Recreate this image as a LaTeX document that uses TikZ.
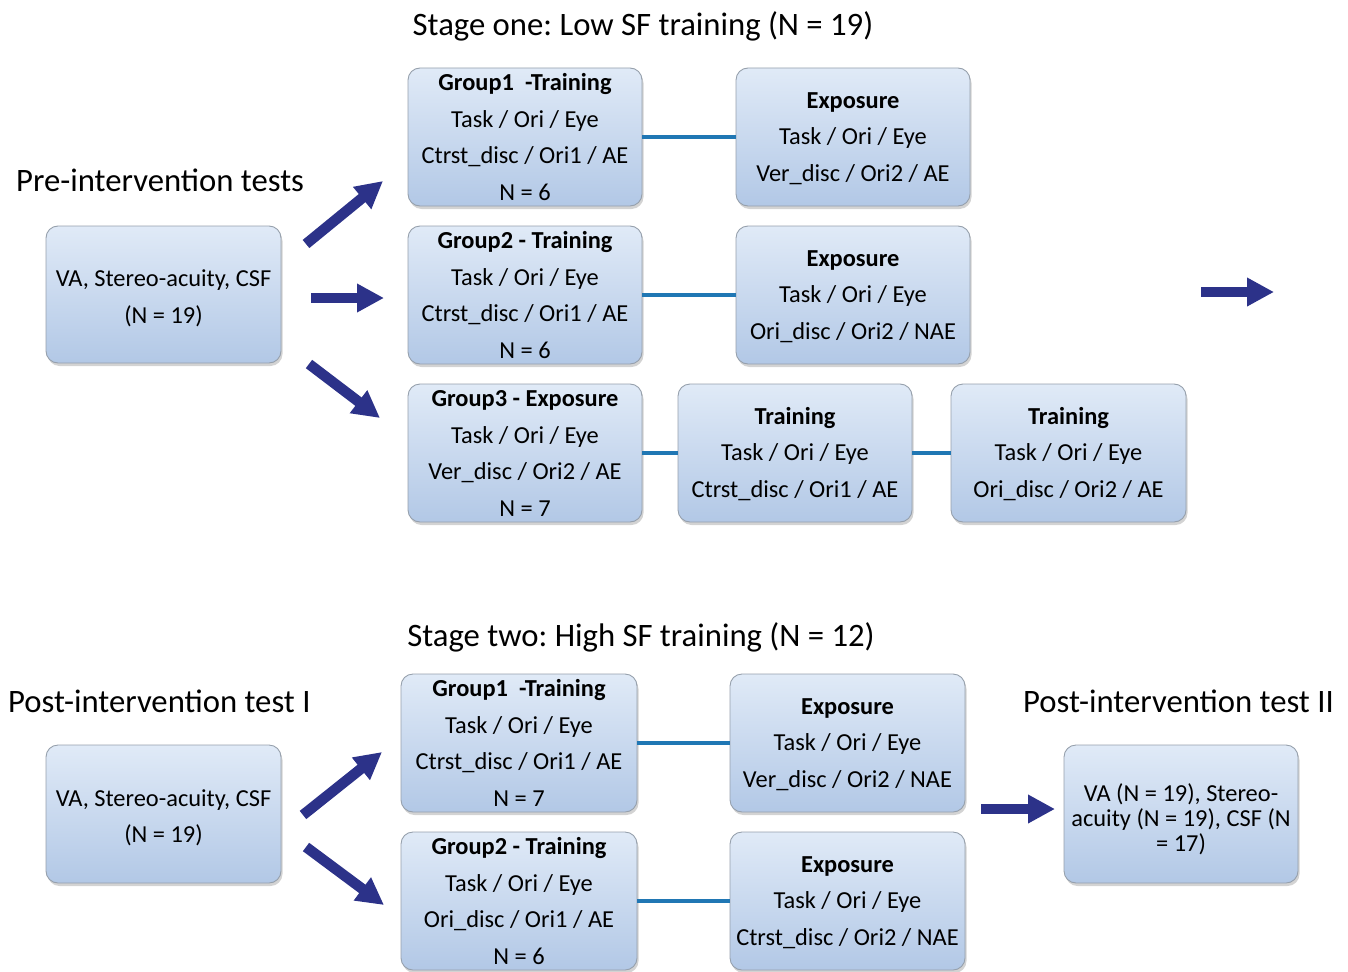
\documentclass[tikz,border=0pt]{standalone}
\usepackage{fontspec}
\setmainfont{Carlito}
\usetikzlibrary{arrows.meta,shadows}
\definecolor{boxtop}{RGB}{224,234,247}
\definecolor{boxbot}{RGB}{178,200,230}
\definecolor{boxline}{RGB}{150,160,172}
\definecolor{connc}{RGB}{32,119,180}
\definecolor{arrowc}{RGB}{44,50,137}
\frenchspacing
\tikzset{
  boxbase/.style={rounded corners=12pt, draw=boxline, line width=0.9pt,
    top color=boxtop, bottom color=boxbot,
    drop shadow={shadow xshift=1.5pt, shadow yshift=-3pt, opacity=0.35},
    minimum width=234pt, minimum height=138pt, inner sep=0pt, align=center,
    font=\fontsize{24.4}{36.5}\selectfont},
  boxfour/.style={boxbase, text height=132pt, text depth=6pt},
  box/.style={boxbase, text height=100pt, text depth=12pt},
  boxtwo/.style={boxbase, text height=68pt, text depth=10.4pt},
  boxwrap/.style={boxbase, font=\fontsize{24.4}{25}\selectfont,
    text height=86pt, text depth=12pt},
  conn/.style={draw=connc, line width=4pt},
  bigarrow/.style={draw=arrowc, line width=10.5pt,
    -{Triangle[width=27pt,length=27pt]}, shorten <=0pt},
  title/.style={inner sep=0pt, anchor=base, font=\fontsize{32.7}{38}\selectfont},
}
\begin{document}
\begin{tikzpicture}[x=1pt,y=-1pt]
\useasboundingbox (0,0) rectangle (1348,971);
% titles
\node[title] (t1) at (643,35.5) {Stage one: Low SF training (N = 19)};
\node[title,anchor=base west] (t2) at (16,191.5) {Pre-intervention tests};
\node[title] (t3) at (641,646) {Stage two: High SF training (N = 12)};
\node[title,anchor=base west] (t4) at (8,712.5) {Post-intervention test I};
\node[title,anchor=base west] (t5) at (1023,712.5) {Post-intervention test II};
% stage one boxes
\node[boxtwo, minimum width=235pt, minimum height=137pt] (pre) at (163.5,294.5) {VA, Stereo-acuity, CSF\\(N = 19)};
\node[boxfour] (g1) at (525,137) {\textbf{Group1\ \ -Training}\\Task / Ori / Eye\\Ctrst\_disc / Ori1 / AE\\N = 6};
\node[box] (e1) at (853,137) {\textbf{Exposure}\\Task / Ori / Eye\\Ver\_disc / Ori2 / AE};
\node[boxfour] (g2) at (525,295) {\textbf{Group2 - Training}\\Task / Ori / Eye\\Ctrst\_disc / Ori1 / AE\\N = 6};
\node[box] (e2) at (853,295) {\textbf{Exposure}\\Task / Ori / Eye\\Ori\_disc / Ori2 / NAE};
\node[boxfour] (g3) at (525,453) {\textbf{Group3 - Exposure}\\Task / Ori / Eye\\Ver\_disc / Ori2 / AE\\N = 7};
\node[box] (tr1) at (795,453) {\textbf{Training}\\Task / Ori / Eye\\Ctrst\_disc / Ori1 / AE};
\node[box, minimum width=235pt] (tr2) at (1068.5,453) {\textbf{Training}\\Task / Ori / Eye\\Ori\_disc / Ori2 / AE};
% stage two boxes
\node[boxtwo, minimum width=235pt] (post) at (163.5,814) {VA, Stereo-acuity, CSF\\(N = 19)};
\node[boxfour, minimum width=236pt] (h1) at (519,743) {\textbf{Group1\ \ -Training}\\Task / Ori / Eye\\Ctrst\_disc / Ori1 / AE\\N = 7};
\node[box, minimum width=235pt] (x1) at (847.5,743) {\textbf{Exposure}\\Task / Ori / Eye\\Ver\_disc / Ori2 / NAE};
\node[boxfour, minimum width=236pt] (h2) at (519,901) {\textbf{Group2 - Training}\\Task / Ori / Eye\\Ori\_disc / Ori1 / AE\\N = 6};
\node[box, minimum width=235pt] (x2) at (847.5,901) {\textbf{Exposure}\\Task / Ori / Eye\\Ctrst\_disc / Ori2 / NAE};
\node[boxwrap] (post2) at (1181,814) {VA (N = 19), Stereo-\\acuity (N = 19), CSF (N\\= 17)};
% connectors
\draw[conn] (g1.east) -- (e1.west);
\draw[conn] (g2.east) -- (e2.west);
\draw[conn] (g3.east) -- (tr1.west);
\draw[conn] (tr1.east) -- (tr2.west);
\draw[conn] (h1.east) -- (x1.west);
\draw[conn] (h2.east) -- (x2.west);
% arrow end points
\coordinate (a1s) at (306,244); \coordinate (a1e) at (383,181);
\coordinate (a2s) at (311,298); \coordinate (a2e) at (384,298);
\coordinate (a3s) at (309,364); \coordinate (a3e) at (380,418);
\coordinate (a4s) at (1201,292); \coordinate (a4e) at (1274,292);
\coordinate (b1s) at (303,815); \coordinate (b1e) at (382,752);
\coordinate (b2s) at (306,847); \coordinate (b2e) at (384,905);
\coordinate (b3s) at (981,809); \coordinate (b3e) at (1055,809);
\draw[bigarrow] (a1s) -- (a1e);
\draw[bigarrow] (a2s) -- (a2e);
\draw[bigarrow] (a3s) -- (a3e);
\draw[bigarrow] (a4s) -- (a4e);
\draw[bigarrow] (b1s) -- (b1e);
\draw[bigarrow] (b2s) -- (b2e);
\draw[bigarrow] (b3s) -- (b3e);
\end{tikzpicture}
\end{document}
